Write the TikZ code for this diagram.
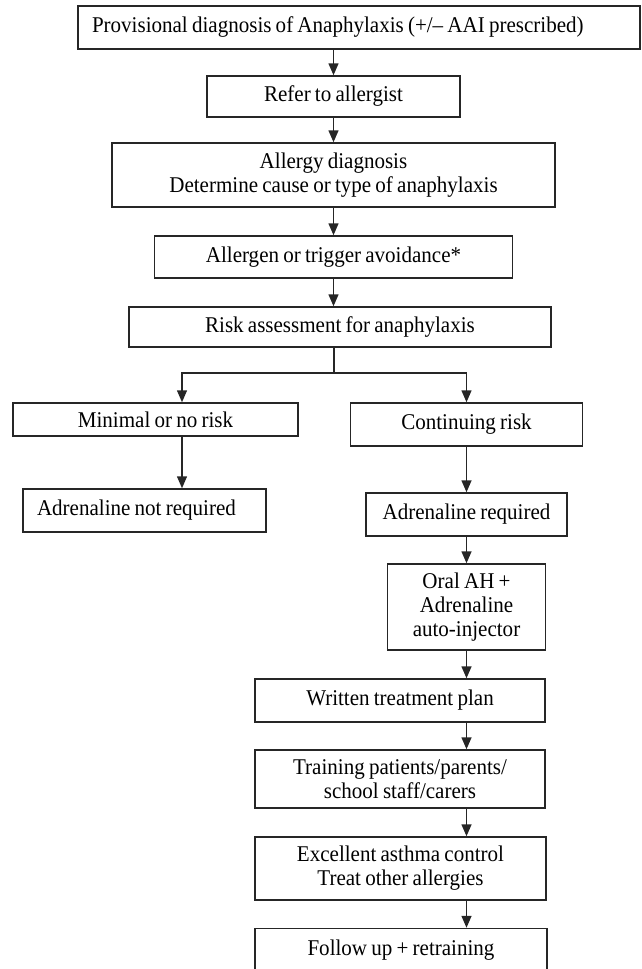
\documentclass[tikz,border=0pt]{standalone}
\usepackage{fontspec}
\setmainfont{Liberation Serif}[FakeStretch=0.935,WordSpace=0.8]
\usepackage{xcolor}
\usepackage{tikz}
\usetikzlibrary{arrows.meta}

\begin{document}
\begin{tikzpicture}[x=1pt,y=-1pt,
  box/.style={rectangle,draw=black!85,line width=1.5pt,inner sep=0pt,align=center,text=black,font=\fontsize{22.5}{24}\selectfont},
  arr/.style={-{Stealth[inset=0pt,length=12pt,width=10pt]},line width=1.5pt,draw=black!85},
  line/.style={line width=1.5pt,draw=black!85}]
\clip (0,0) rectangle (641,969);
\node [box,text width=534pt,inner xsep=14pt,align=flush left,minimum height=43pt] at (359,27.5) (prov) {Provisional diagnosis of Anaphylaxis (+/– AAI prescribed)};
\node [box,minimum width=253pt,minimum height=41pt] at (333.5,96.5) (refer) {Refer to allergist};
\node [box,minimum width=443pt,minimum height=64pt] at (333.5,175) (allergy) {Allergy diagnosis\\Determine cause or type of anaphylaxis};
\node [box,minimum width=358pt,minimum height=42pt] at (333.5,257) (avoid) {Allergen or trigger avoidance*};
\node [box,minimum width=422pt,minimum height=40pt] at (340,327) (risk) {Risk assessment for anaphylaxis};
\node [box,minimum width=285pt,minimum height=33pt] at (155.5,419.5) (minimal) {Minimal or no risk};
\node [box,minimum width=232pt,minimum height=43pt] at (466.5,424.5) (cont) {Continuing risk};
\node [box,text width=215pt,inner xsep=14pt,align=flush left,minimum height=43pt] at (144.5,510.5) (notreq) {Adrenaline not required};
\node [box,minimum width=201pt,minimum height=43pt] at (466.5,514.5) (req) {Adrenaline required};
\node [box,minimum width=158pt,minimum height=86pt] at (466.5,607) (oral) {Oral AH +\\Adrenaline\\auto-injector};
\node [box,minimum width=290pt,minimum height=43pt] at (400,700.5) (plan) {Written treatment plan};
\node [box,minimum width=290pt,minimum height=58pt] at (400,779) (train) {Training patients/parents/\\school staff/carers};
\node [box,minimum width=291pt,minimum height=63pt] at (400.5,868.5) (excel) {Excellent asthma control\\Treat other allergies};
\node [box,minimum width=292pt,minimum height=43pt] at (401,950) (follow) {Follow up + retraining};
\coordinate (split) at (334,373);
\coordinate (lbr) at (182,373);
\draw [arr] (prov.south -| refer.north) -- (refer.north);
\draw [arr] (refer) -- (allergy);
\draw [arr] (allergy) -- (avoid);
\draw [arr] (avoid.south) -- (avoid.south |- risk.north);
\draw [arr] (risk.south -| split) -- (split) -| (lbr |- minimal.north);
\draw [arr] (split) -| (cont.north);
\draw [arr] (lbr |- minimal.south) -- (lbr |- notreq.north);
\draw [arr] (cont) -- (req);
\draw [arr] (req) -- (oral);
\draw [arr] (oral.south) -- (oral.south |- plan.north);
\draw [arr] (plan.south -| oral.south) -- (oral.south |- train.north);
\draw [arr] (train.south -| oral.south) -- (oral.south |- excel.north);
\draw [arr] (excel.south -| oral.south) -- (oral.south |- follow.north);
\end{tikzpicture}
\end{document}
